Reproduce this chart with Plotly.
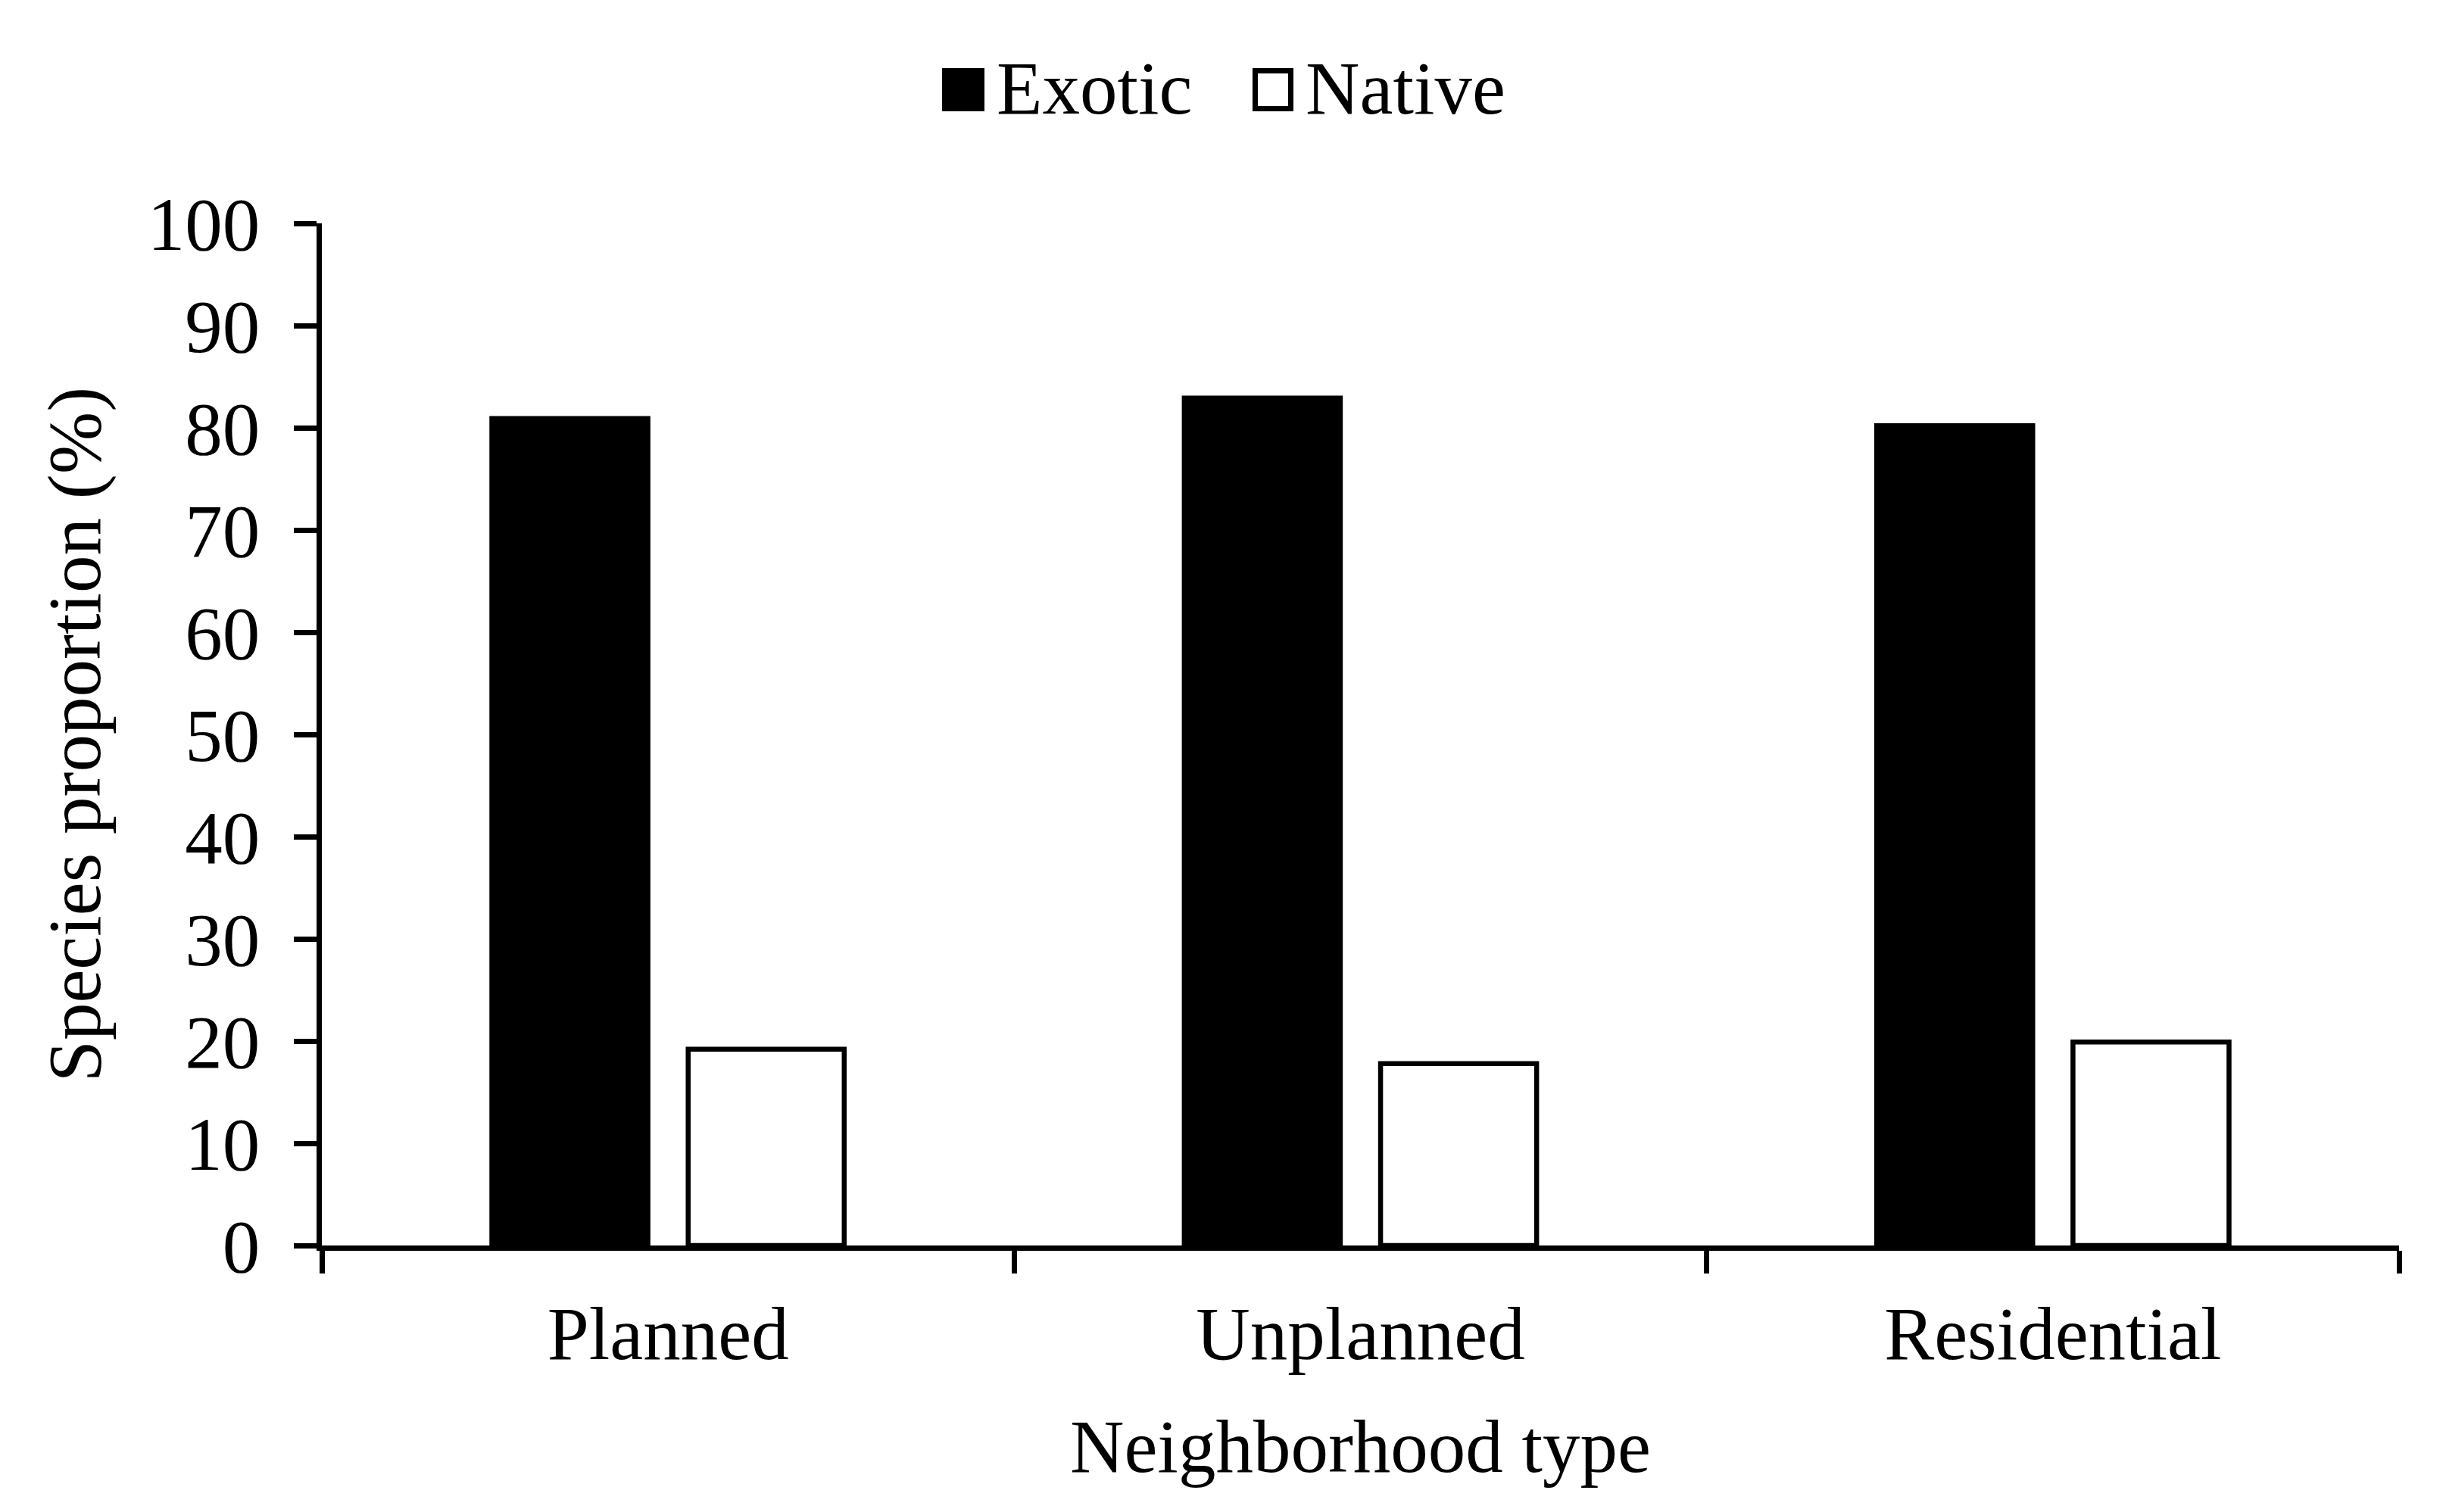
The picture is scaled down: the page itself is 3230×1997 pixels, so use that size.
import plotly.graph_objects as go

categories = ["Planned", "Unplanned", "Residential"]
exotic = [80.9, 82.9, 80.2]
native = [19.2, 17.8, 19.9]
series_names = ["Exotic", "Native"]
y_ticks = [0, 10, 20, 30, 40, 50, 60, 70, 80, 90, 100]

FONT = "Liberation Serif"
OFF = 8  # default page body margin
W, H = 3230 - 2 * OFF, 1997 - 2 * OFF
# plot area in window pixels: x 425..3168, y 295..1645
PX0, PX1, PY0, PY1 = 425, 3168, 295, 1645
L, T = PX0 - OFF, PY0 - OFF
PW, PH = PX1 - PX0, PY1 - PY0
R, B = W - L - PW, H - T - PH


def px_x(x):
    return (x - PX0) / PW


def px_y(y):
    return (PY1 - y) / PH


fig = go.Figure()
fig.add_trace(go.Bar(x=categories, y=exotic, name=series_names[0],
                     marker=dict(color="black", line=dict(color="black", width=6.5)),
                     showlegend=False))
fig.add_trace(go.Bar(x=categories, y=native, name=series_names[1],
                     marker=dict(color="white", line=dict(color="black", width=6.5)),
                     showlegend=False))

# manual legend
fig.add_shape(type="rect", xref="paper", yref="paper",
              x0=px_x(1247.5), x1=px_x(1296.5), y0=px_y(143.5), y1=px_y(93.5),
              fillcolor="black", line=dict(color="black", width=7))
fig.add_shape(type="rect", xref="paper", yref="paper",
              x0=px_x(1657.5), x1=px_x(1704.5), y0=px_y(143.5), y1=px_y(93.5),
              fillcolor="white", line=dict(color="black", width=7))
fig.add_annotation(text=series_names[0], xref="paper", yref="paper",
                   x=px_x(1314), y=px_y(116), xanchor="left", yanchor="middle",
                   showarrow=False, font=dict(family=FONT, size=99, color="black"))
fig.add_annotation(text=series_names[1], xref="paper", yref="paper",
                   x=px_x(1722), y=px_y(116), xanchor="left", yanchor="middle",
                   showarrow=False, font=dict(family=FONT, size=99, color="black"))

fig.update_layout(
    width=W, height=H,
    margin=dict(l=L, r=R, t=T, b=B, pad=0),
    paper_bgcolor="white", plot_bgcolor="white",
    barmode="group", bargap=0.433, bargroupgap=0.205,
    font=dict(family=FONT, size=99, color="black"),
    showlegend=False,
)
fig.update_xaxes(
    showline=True, linecolor="black", linewidth=7,
    ticks="outside", tickson="boundaries", ticklen=30, tickwidth=7, tickcolor="black",
    showgrid=False, ticklabelstandoff=24,
    tickfont=dict(family=FONT, size=99, color="black"),
    title=dict(text="Neighborhood type", standoff=62,
               font=dict(family=FONT, size=99, color="black")),
)
fig.update_yaxes(
    range=[0, 100], tickvals=y_ticks, ticktext=[str(v) for v in y_ticks],
    showline=True, linecolor="black", linewidth=7,
    ticks="outside", ticklen=30, tickwidth=7, tickcolor="black",
    showgrid=False, zeroline=False, ticklabelstandoff=25,
    tickfont=dict(family=FONT, size=99, color="black"),
    title=dict(text="Species proportion (%)", standoff=32,
               font=dict(family=FONT, size=99, color="black")),
)

fig.write_html("out.html")
